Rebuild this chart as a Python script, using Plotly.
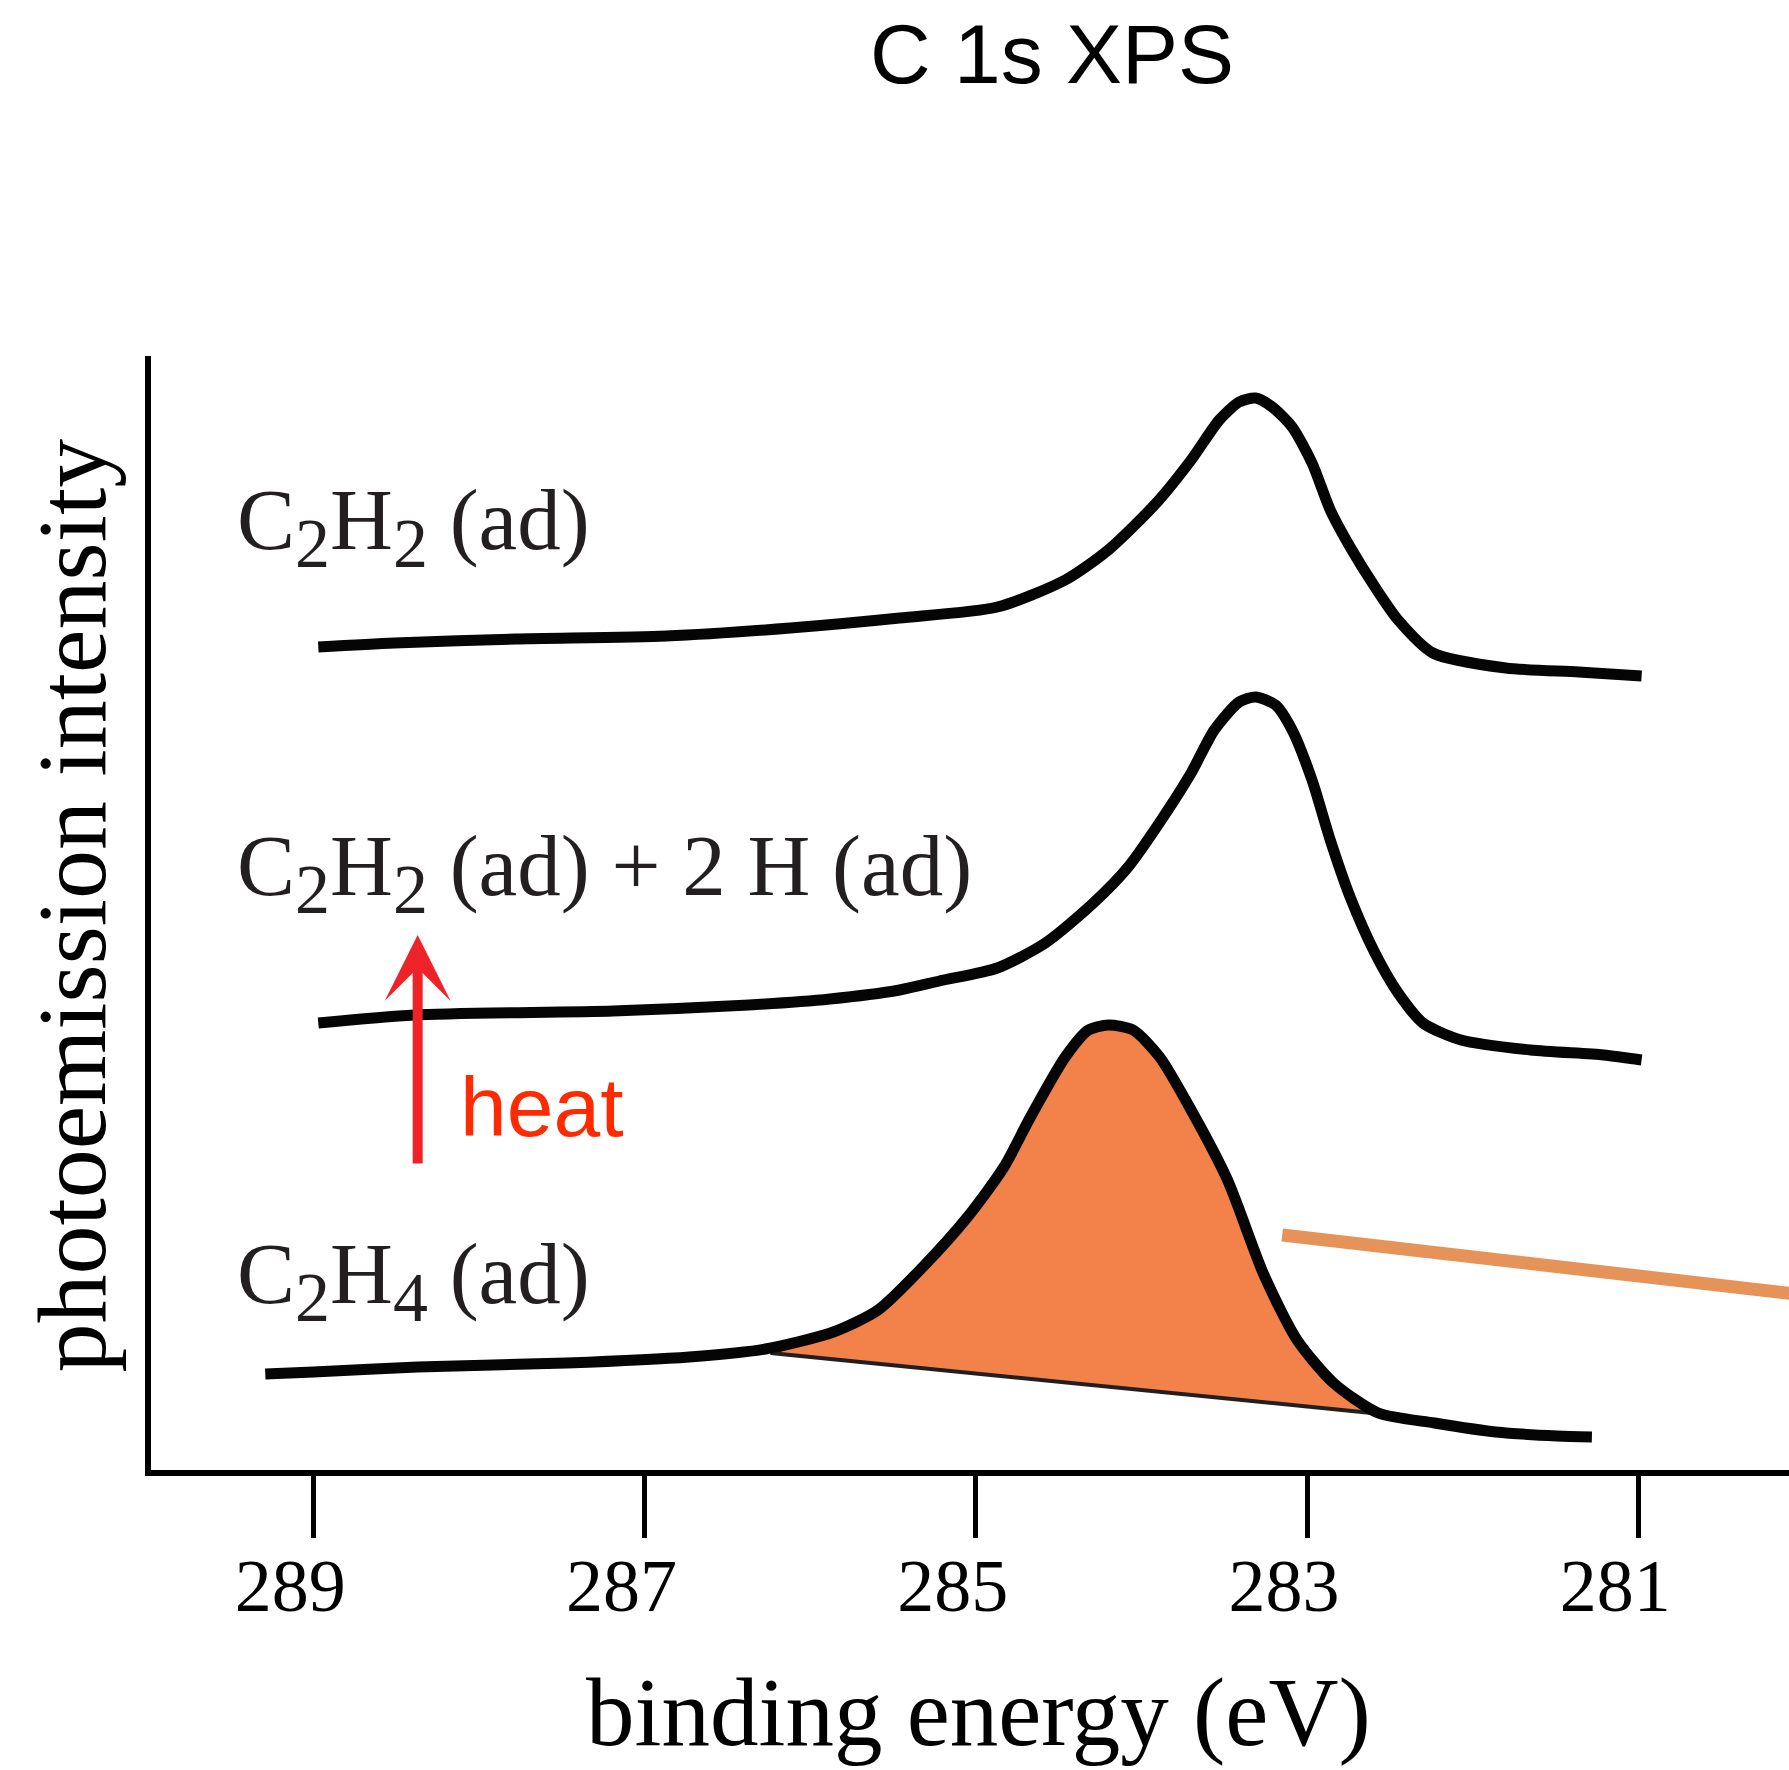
import plotly.graph_objects as go
import numpy as np

# ---------------- data (binding energy in eV, intensity in arb. units) ----------------
c2h2_be = [288.97, 288.51, 287.78, 286.87, 286.12, 285.46, 284.87, 284.46, 284.20, 283.91,
           283.70, 283.53, 283.41, 283.31, 283.21, 283.09, 282.97, 282.86, 282.74, 282.59,
           282.45, 282.24, 281.80, 281.36, 280.98]
c2h2_int = [8.26, 8.30, 8.34, 8.37, 8.45, 8.55, 8.66, 8.93, 9.23, 9.70,
            10.13, 10.53, 10.71, 10.75, 10.66, 10.46, 10.10, 9.63, 9.26, 8.86,
            8.53, 8.20, 8.05, 8.01, 7.97]

c2h2h_be = [288.97, 288.39, 287.19, 286.37, 285.88, 285.46, 285.22, 284.87, 284.58, 284.29,
            284.08, 283.88, 283.70, 283.56, 283.41, 283.31, 283.19, 283.09, 282.97, 282.86,
            282.74, 282.59, 282.45, 282.30, 282.07, 281.65, 281.21, 280.98]
c2h2h_int = [4.50, 4.58, 4.62, 4.68, 4.74, 4.83, 4.92, 5.05, 5.30, 5.70,
             6.06, 6.53, 7.00, 7.43, 7.71, 7.76, 7.68, 7.43, 6.93, 6.33,
             5.76, 5.20, 4.80, 4.50, 4.33, 4.23, 4.18, 4.13]

c2h4_be = [289.29, 289.00, 288.37, 287.47, 286.73, 286.27, 285.86, 285.59, 285.32, 285.05,
           284.83, 284.67, 284.46, 284.32, 284.20, 284.05, 283.89, 283.70, 283.48, 283.26,
           283.06, 282.84, 282.57, 282.23, 281.86, 281.49, 281.28]
c2h4_int = [0.99, 1.01, 1.06, 1.10, 1.16, 1.24, 1.41, 1.63, 2.06, 2.56,
            3.06, 3.56, 4.16, 4.43, 4.48, 4.43, 4.16, 3.63, 2.93, 1.98,
            1.33, 0.90, 0.60, 0.50, 0.41, 0.37, 0.36]

# linear background under the C2H4 peak (start / end)
bg_be = [286.24, 282.61]
bg_int = [1.20, 0.60]

# pointer line (orange)
pointer_be = [283.15, 280.00]
pointer_int = [2.38, 1.78]

tick_vals = [289, 287, 285, 283, 281]
tick_text = ["289", "287", "285", "283", "281"]

SUB = "<sub><span style='font-size:70px'>{}</span></sub>"
labels = ["C" + SUB.format("2") + "H" + SUB.format("2") + " (ad)",
          "C" + SUB.format("2") + "H" + SUB.format("2") + " (ad) + 2 H (ad)",
          "C" + SUB.format("2") + "H" + SUB.format("4") + " (ad)"]
label_be = [289.475, 289.475, 289.475]
label_int = [9.47, 6.01, 1.93]

arrow_be = 288.37
arrow_tail_int = 3.08
arrow_tip_int = 5.38

# ---------------- figure ----------------
SERIF = "Liberation Serif"
SANS = "Liberation Sans"
BLACK = "#050505"

fig = go.Figure()

# filled peak area (curve above background line)
be3 = np.array(c2h4_be)
in3 = np.array(c2h4_int)
mask = (be3 < bg_be[0]) & (be3 > bg_be[1])
top_be = list(be3[mask])
top_in = list(in3[mask])
fill_x = [bg_be[0]] + top_be + [bg_be[1], bg_be[0]]
fill_y = [bg_int[0]] + top_in + [bg_int[1], bg_int[0]]
fig.add_trace(go.Scatter(x=fill_x, y=fill_y, mode="lines", fill="toself",
                         fillcolor="#F3814A",
                         line=dict(color="#231F20", width=4, shape="linear"),
                         hoverinfo="skip", showlegend=False))

for xs, ys in [(c2h2_be, c2h2_int), (c2h2h_be, c2h2h_int), (c2h4_be, c2h4_int)]:
    fig.add_trace(go.Scatter(x=xs, y=ys, mode="lines",
                             line=dict(color=BLACK, width=11, shape="spline", smoothing=0.7),
                             showlegend=False))

fig.add_trace(go.Scatter(x=pointer_be, y=pointer_int, mode="lines",
                         line=dict(color="#E6935A", width=13), showlegend=False))

ann = []
for t, xb, yi in zip(labels, label_be, label_int):
    ann.append(dict(x=xb, y=yi, xref="x", yref="y", text=t, showarrow=False,
                    xanchor="left", yanchor="middle",
                    font=dict(family=SERIF, size=87, color="#231F20")))

# heat arrow
ann.append(dict(x=arrow_be, y=arrow_tip_int, ax=arrow_be, ay=arrow_tail_int,
                xref="x", yref="y", axref="x", ayref="y", text="",
                showarrow=True, arrowhead=3, arrowsize=1.1, arrowwidth=10,
                arrowcolor="#ED2327"))
ann.append(dict(x=288.125, y=3.66, xref="x", yref="y", text="heat", showarrow=False,
                xanchor="left", yanchor="middle",
                font=dict(family=SANS, size=84, color="#FF2A00")))

# title and axis titles
ann.append(dict(x=0.5503, y=1.2713, xref="paper", yref="paper", text="C 1s XPS",
                showarrow=False, xanchor="center", yanchor="middle",
                font=dict(family=SANS, size=84, color="#000000")))
ann.append(dict(x=0.5050, y=-0.2175, xref="paper", yref="paper",
                text="binding energy (eV)", showarrow=False,
                xanchor="center", yanchor="middle",
                font=dict(family=SERIF, size=97, color="#000000")))
ann.append(dict(x=-0.0488, y=0.5067, xref="paper", yref="paper",
                text="photoemission intensity", showarrow=False, textangle=-90,
                xanchor="center", yanchor="middle",
                font=dict(family=SERIF, size=98, color="#000000")))

fig.update_layout(
    width=1789, height=1770,
    margin=dict(l=151, r=0, t=356, b=300),
    paper_bgcolor="white", plot_bgcolor="white",
    annotations=ann,
    xaxis=dict(range=[289.98, 280.09], showgrid=False, zeroline=False,
               showline=True, linewidth=6, linecolor="#000000",
               ticks="outside", ticklen=62, tickwidth=5, tickcolor="#000000",
               tickvals=tick_vals, ticktext=tick_text,
               tickfont=dict(family=SERIF, size=74, color="#000000"),
               ticklabelstandoff=-16, ticklabelshift=23),
    yaxis=dict(range=[0.03, 11.17], showgrid=False, zeroline=False,
               showline=True, linewidth=6, linecolor="#000000",
               showticklabels=False, ticks=""),
)

fig.write_html("out.html")
